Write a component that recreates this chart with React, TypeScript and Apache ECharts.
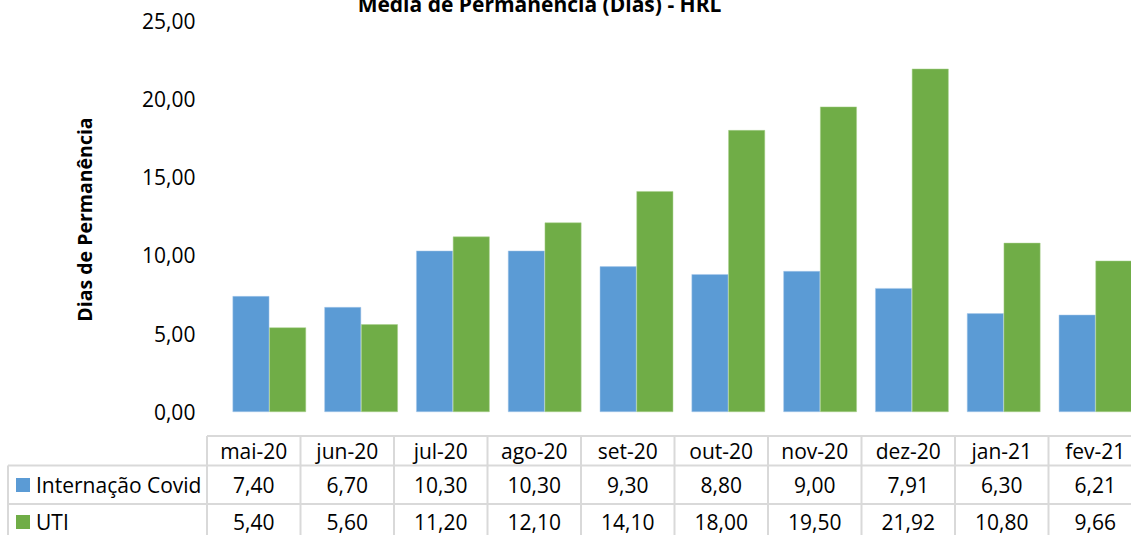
import React, { useEffect, useRef } from "react";
import * as echarts from "echarts";

const categories = ["mai-20", "jun-20", "jul-20", "ago-20", "set-20", "out-20", "nov-20", "dez-20", "jan-21", "fev-21"];
const internacaoCovid = [7.4, 6.7, 10.3, 10.3, 9.3, 8.8, 9.0, 7.91, 6.3, 6.21];
const uti = [5.4, 5.6, 11.2, 12.1, 14.1, 18.0, 19.5, 21.92, 10.8, 9.66];
const seriesNames = ["Internação Covid", "UTI"];
const seriesColors = ["#5B9BD5", "#70AD47"];
const titleText = "Média de Permanência (Dias) - HRL";
const yAxisTitle = "Dias de Permanência";

const FONT = "'Open Sans', sans-serif";
const fmt = (v: number) => v.toFixed(2).replace(".", ",");

export default function App() {
  const ref = useRef<HTMLDivElement>(null);
  useEffect(() => {
    if (!ref.current) return;
    const chart = echarts.init(ref.current, undefined, { renderer: "svg" });

    // table layout
    const colStart = 207;
    const colW = 93.5;
    const hdrTop = 436;
    const row1Top = 465.5;
    const row2Top = 504;
    const bottom = 540;
    const rightEdge = 1145;
    const lineStyle = { stroke: "#D9D9D9", lineWidth: 2 };
    const g: any[] = [];
    g.push({ type: "line", shape: { x1: colStart, y1: hdrTop, x2: rightEdge, y2: hdrTop }, style: lineStyle });
    g.push({ type: "line", shape: { x1: 8, y1: row1Top, x2: rightEdge, y2: row1Top }, style: lineStyle });
    g.push({ type: "line", shape: { x1: 8, y1: row2Top, x2: rightEdge, y2: row2Top }, style: lineStyle });
    g.push({ type: "line", shape: { x1: 8, y1: row1Top, x2: 8, y2: bottom }, style: lineStyle });
    for (let i = 0; i <= categories.length; i++) {
      const x = colStart + colW * i;
      g.push({ type: "line", shape: { x1: x, y1: hdrTop, x2: x, y2: bottom }, style: lineStyle });
    }
    const rows = [internacaoCovid, uti];
    const rowCenters = [485, 522];
    categories.forEach((c, i) => {
      const cx = colStart + colW * (i + 0.5);
      g.push({ type: "text", x: cx, y: 451, style: { text: c, font: `21px ${FONT}`, fill: "#000", align: "center", verticalAlign: "middle" } });
      rows.forEach((r, k) => {
        g.push({ type: "text", x: cx, y: rowCenters[k], style: { text: fmt(r[i]), font: `21px ${FONT}`, fill: "#000", align: "center", verticalAlign: "middle" } });
      });
    });
    seriesNames.forEach((n, k) => {
      g.push({ type: "rect", shape: { x: 16, y: rowCenters[k] - 7, width: 14, height: 14 }, style: { fill: seriesColors[k] } });
      g.push({ type: "text", x: 36, y: rowCenters[k], style: { text: n, font: `21px ${FONT}`, fill: "#000", align: "left", verticalAlign: "middle" } });
    });
    g.push({ type: "text", x: 539.5, y: 4, style: { text: titleText, font: `bold 21px ${FONT}`, fill: "#000", align: "center", verticalAlign: "middle" } });
    g.push({ type: "text", x: 84, y: 219.5, rotation: Math.PI / 2, style: { text: yAxisTitle, font: `bold 19.5px ${FONT}`, fill: "#000", align: "center", verticalAlign: "middle" } });

    chart.setOption({
      animation: false,
      grid: { left: 223.4, right: 3.6, top: 20.5, bottom: 123, containLabel: false, outerBoundsMode: "none" },
      xAxis: {
        type: "category",
        data: categories,
        axisLine: { show: false },
        axisTick: { show: false },
        axisLabel: { show: false },
        splitLine: { show: false },
      },
      yAxis: {
        type: "value",
        min: 0,
        max: 25,
        interval: 5,
        axisLine: { show: false },
        axisTick: { show: false },
        splitLine: { show: false },
        axisLabel: { formatter: (v: number) => fmt(v), fontFamily: FONT, fontSize: 21, color: "#000", margin: 28 },
      },
      series: [
        { name: seriesNames[0], type: "bar", data: internacaoCovid, barGap: "0%", barCategoryGap: "20%", itemStyle: { color: seriesColors[0], borderColor: "#A9C8EA", borderWidth: 0.5 } },
        { name: seriesNames[1], type: "bar", data: uti, barGap: "0%", barCategoryGap: "20%", itemStyle: { color: seriesColors[1], borderColor: "#A8D08D", borderWidth: 0.5 } },
      ],
      graphic: g,
    });
    return () => chart.dispose();
  }, []);
  return <div ref={ref} style={{ position: "fixed", left: 0, top: 0, width: 1145, height: 535, background: "#fff" }} />;
}
